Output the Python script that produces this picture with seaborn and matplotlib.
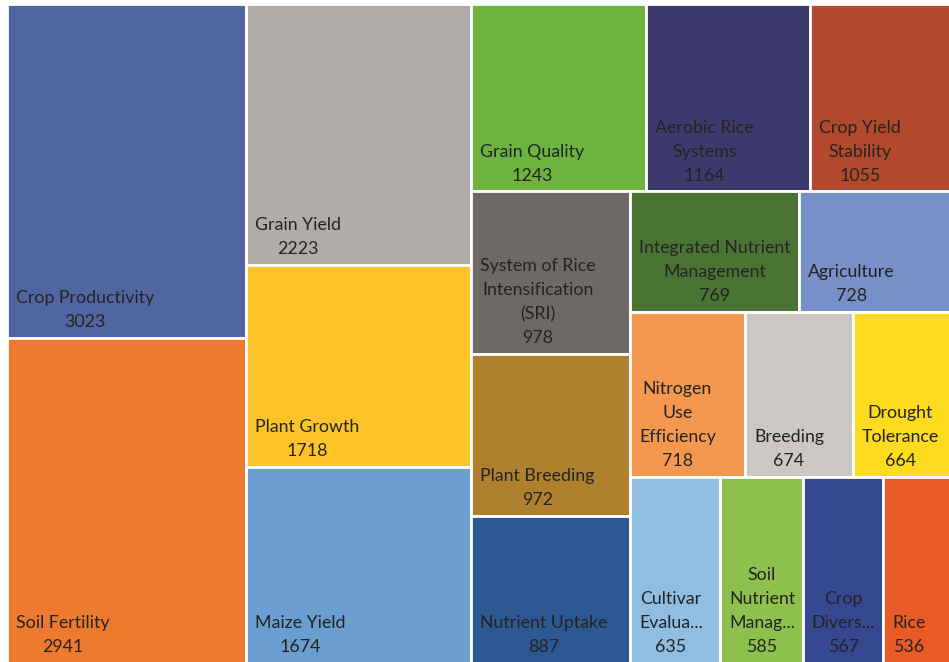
import matplotlib
matplotlib.use("Agg")
import matplotlib.pyplot as plt
from matplotlib.patches import Rectangle
import seaborn as sns

# Research themes and their publication counts (largest first)
labels = [
    "Crop Productivity", "Soil Fertility", "Grain Yield", "Plant Growth",
    "Maize Yield", "Grain Quality", "Aerobic Rice\nSystems", "Crop Yield\nStability",
    "System of Rice\nIntensification\n(SRI)", "Plant Breeding", "Nutrient Uptake",
    "Integrated Nutrient\nManagement", "Agriculture", "Nitrogen\nUse\nEfficiency",
    "Breeding", "Drought\nTolerance", "Cultivar\nEvalua...", "Soil\nNutrient\nManag...",
    "Crop\nDivers...", "Rice",
]
counts = [3023, 2941, 2223, 1718, 1674, 1243, 1164, 1055, 978, 972, 887,
          769, 728, 718, 674, 664, 635, 585, 567, 536]
colors = [
    "#5166A0", "#EE7A30", "#B1ACA7", "#FCC42A", "#6A9ED0", "#6DB33F",
    "#3D396C", "#B2492D", "#6E6964", "#AF812F", "#2D5992", "#4A7434",
    "#7790C8", "#F4984F", "#CBC8C4", "#FDDB1F", "#90BEE3", "#8EC04E",
    "#374892", "#E85B27",
]

# number of tiles in each successive strip of the squarified layout
strip_sizes = [2, 3, 3, 3, 2, 3, 4]

sns.set_theme(style="white")
plt.rcParams["font.family"] = ["Lato", "DejaVu Sans"]

FIG_W, FIG_H, DPI = 949, 662, 100
fig = plt.figure(figsize=(FIG_W / DPI, FIG_H / DPI), dpi=DPI)
left, right, top, bottom = 7, 959, 4, 663  # plot area in pixels (runs past the right edge)
ax = fig.add_axes([left / FIG_W, 1 - bottom / FIG_H,
                   (right - left) / FIG_W, (bottom - top) / FIG_H])
W, H = right - left, bottom - top
ax.set_xlim(0, W)
ax.set_ylim(H, 0)
ax.set_axis_off()


def squarify_strips(values, sizes, x, y, w, h):
    """Lay out values into strips; each strip runs along the shorter side,
    the last strip fills the remainder along its longer side."""
    scale = w * h / sum(values)
    rects = []
    i = 0
    for k, n in enumerate(sizes):
        group = values[i:i + n]
        area = sum(group) * scale
        last = k == len(sizes) - 1
        along_height = (h <= w) if not last else (h > w)
        if along_height:
            thick = area / h if not last else w
            yy = y
            for v in group:
                hh = h * v / sum(group)
                rects.append((x, yy, thick, hh))
                yy += hh
            x += thick
            w -= thick
        else:
            thick = area / w if not last else h
            xx = x
            for v in group:
                ww = w * v / sum(group)
                rects.append((xx, y, ww, thick))
                xx += ww
            y += thick
            h -= thick
        i += n
    return rects


rects = squarify_strips(counts, strip_sizes, 0, 0, W, H)

for (x, y, w, h), lab, val, col in zip(rects, labels, counts, colors):
    ax.add_patch(Rectangle((x, y), w, h, facecolor=col, edgecolor="white",
                           linewidth=2.0, clip_on=True))
    ax.annotate(f"{lab}\n{val}", xy=(x, y + h), xytext=(6.5, 5.5),
                textcoords="offset points", ha="left", va="bottom",
                multialignment="center", fontsize=12.8, color="#232323",
                linespacing=1.62)

fig.savefig("out.png", dpi=DPI, facecolor="white")
